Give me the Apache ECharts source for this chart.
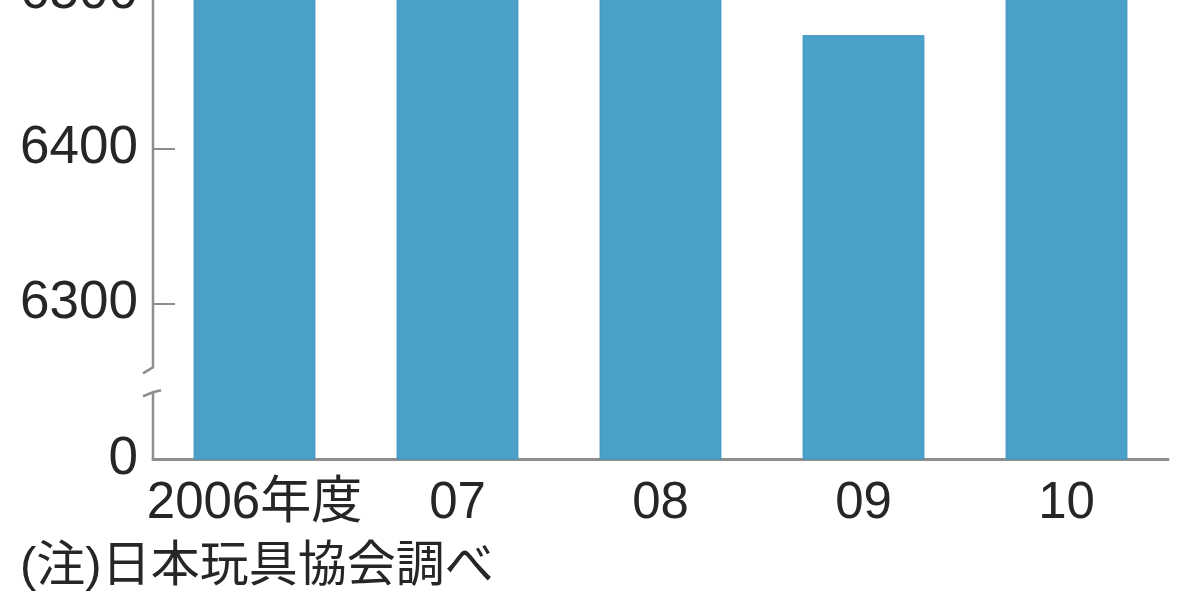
<!DOCTYPE html>
<html>
<head>
<meta charset="utf-8">
<script src="https://cdn.jsdelivr.net/npm/echarts@6/dist/echarts.min.js"></script>
<style>
  html, body { margin: 0; padding: 0; background: #fff; }
  #chart { width: 1200px; height: 600px; }
</style>
</head>
<body>
<div id="chart"></div>
<script>
// 年度
const years = ['2006年度', '07', '08', '09', '10']
// 国内玩具市場規模（億円）
const sales = [6729, 6652, 6727, 6473, 6697]
// 縦軸：6200 の位置を 0 として表示する省略軸
const axisMin = 6200
const axisMax = 6600
const axisStep = 100
// 軸線の省略部分
const breakFrom = 6243
const breakTo = 6259
const note = '(注)日本玩具協会調べ'

const gridLeft = 153
const axisColor = '#8e8e8e'
const textColor = '#262626'
const fontFamily = '"Liberation Sans", "Noto Sans CJK JP", sans-serif'

const chart = echarts.init(document.getElementById('chart'))
chart.setOption({
  animation: false,
  grid: { left: gridLeft, right: 32, top: -162, bottom: 141, outerBoundsMode: 'none', containLabel: false },
  xAxis: {
    type: 'category',
    data: years,
    axisLine: { lineStyle: { color: axisColor, width: 3 } },
    axisTick: { show: false },
    axisLabel: { color: textColor, fontSize: 51, margin: 19, interval: 0, hideOverlap: false, fontFamily: fontFamily }
  },
  yAxis: {
    type: 'value',
    min: axisMin,
    max: axisMax,
    interval: axisStep,
    axisLine: { show: false },
    axisTick: { show: true, inside: true, length: 22, lineStyle: { color: axisColor, width: 2 } },
    splitLine: { show: false },
    axisLabel: {
      color: textColor,
      fontSize: 53,
      margin: 15,
      fontFamily: fontFamily,
      formatter: v => (v === axisMin ? '0' : String(v))
    }
  },
  series: [{
    type: 'bar',
    data: sales,
    barCategoryGap: '40%',
    itemStyle: { color: '#4aa0c8', borderColor: '#3b93bf', borderWidth: 1 }
  }]
})

// 軸線（省略記号つき）
const py = v => chart.convertToPixel({ yAxisIndex: 0 }, v)
const lineStyle = { stroke: axisColor, lineWidth: 2.5, fill: null }
chart.setOption({
  graphic: [
    {
      type: 'polyline',
      shape: { points: [[gridLeft, py(axisMax)], [gridLeft, py(breakTo)], [gridLeft - 10, py(breakTo) + 6]] },
      style: lineStyle
    },
    {
      type: 'polyline',
      shape: { points: [[gridLeft - 10, py(breakFrom) + 4], [gridLeft, py(breakFrom)], [gridLeft + 8, py(breakFrom) - 2]] },
      style: lineStyle
    },
    {
      type: 'line',
      shape: { x1: gridLeft, y1: py(breakFrom), x2: gridLeft, y2: py(axisMin) },
      style: lineStyle
    },
    {
      type: 'text',
      left: 20,
      top: 543,
      style: { text: note, fill: textColor, fontSize: 49, fontFamily: fontFamily }
    }
  ]
})
</script>
</body>
</html>
